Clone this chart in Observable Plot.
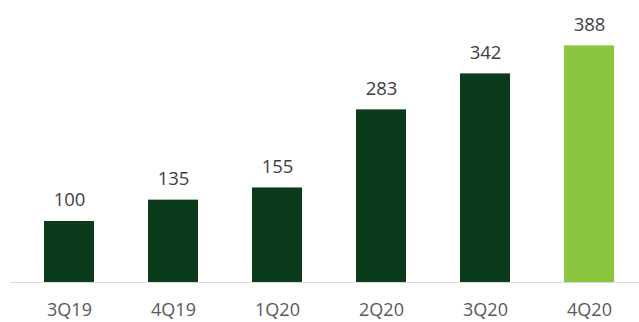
<!DOCTYPE html>
<html>
<head>
<meta charset="utf-8">
<script src="https://cdn.jsdelivr.net/npm/d3@7"></script>
<script src="https://cdn.jsdelivr.net/npm/@observablehq/plot@0.6"></script>
<style>
  html, body { margin: 0; padding: 0; background: #ffffff; }
  #chart svg { display: block; }
</style>
</head>
<body>
<div id="chart"></div>
<script>
const quarters = ["3Q19", "4Q19", "1Q20", "2Q20", "3Q20", "4Q20"];
const values = [100, 135, 155, 283, 342, 388];
const highlight = [false, false, false, false, false, true];

const data = quarters.map((q, i) => ({q, v: values[i], hi: highlight[i]}));

const chart = Plot.plot({
  width: 639,
  height: 322,
  marginLeft: 10,
  marginRight: 0,
  marginTop: 38,
  marginBottom: 40,
  style: {fontFamily: "'Open Sans', sans-serif", background: "#ffffff"},
  x: {domain: quarters, range: [10, 648], paddingInner: 0.523, paddingOuter: 0.305, label: null},
  y: {domain: [0, 400], axis: null},
  marks: [
    Plot.barY(data, {x: "q", y: "v", fill: d => d.hi ? "#8cc63f" : "#0b3b1b"}),
    Plot.ruleY([0], {stroke: "#d9d9d9", strokeWidth: 1}),
    Plot.text(data, {x: "q", y: "v", text: d => String(d.v), dy: -21, fontSize: 18.5, fill: "#404040"}),
    Plot.axisX({tickSize: 0, tickPadding: 21, fontSize: 18, fill: "#595959", label: null, style: {letterSpacing: "0.8px"}})
  ]
});
document.getElementById("chart").appendChild(chart);
</script>
</body>
</html>
